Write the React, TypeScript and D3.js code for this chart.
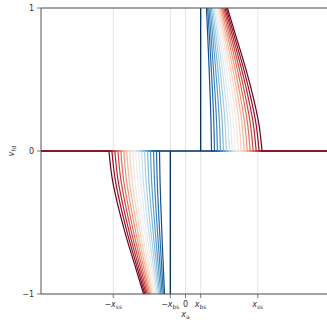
import React from 'react';
import * as d3 from 'd3';

const vLevels = [0, 0.2, 0.4, 0.6, 0.8, 1];

// |x_a| offsets (units of x_ss) per curve, innermost (blue) to outermost (red)
const curveOffsets = [
  [0.36, 0.353, 0.34, 0.325, 0.308, 0.29],
  [0.401, 0.392, 0.375, 0.354, 0.331, 0.307],
  [0.442, 0.43, 0.409, 0.383, 0.354, 0.324],
  [0.484, 0.47, 0.444, 0.413, 0.377, 0.341],
  [0.525, 0.508, 0.478, 0.442, 0.4, 0.358],
  [0.566, 0.547, 0.513, 0.471, 0.423, 0.375],
  [0.607, 0.586, 0.547, 0.5, 0.446, 0.392],
  [0.648, 0.624, 0.581, 0.529, 0.469, 0.409],
  [0.689, 0.663, 0.615, 0.558, 0.492, 0.426],
  [0.731, 0.702, 0.651, 0.587, 0.516, 0.444],
  [0.772, 0.741, 0.685, 0.617, 0.539, 0.461],
  [0.813, 0.78, 0.719, 0.646, 0.562, 0.478],
  [0.854, 0.818, 0.753, 0.675, 0.585, 0.495],
  [0.895, 0.857, 0.788, 0.704, 0.608, 0.512],
  [0.936, 0.895, 0.822, 0.733, 0.631, 0.529],
  [0.978, 0.935, 0.857, 0.762, 0.654, 0.546],
  [1.019, 0.973, 0.891, 0.791, 0.677, 0.563],
  [1.06, 1.012, 0.926, 0.82, 0.7, 0.58],
];

const xBs = 0.21;
const xSs = 1;
const xTicks = [-xSs, -xBs, 0, xBs, xSs];
const xTickLabels = [
  { sign: '−', sub: 'ss' },
  { sign: '−', sub: 'bs' },
  { sign: '', sub: '' },
  { sign: '', sub: 'bs' },
  { sign: '', sub: 'ss' },
];
const yTicks = [-1, 0, 1];

const W = 327;
const H = 320;
const margin = { left: 41, top: 8, bottom: 26 };

const App = () => {
  const x = d3.scaleLinear().domain([-2, 2]).range([margin.left, 330]);
  const y = d3.scaleLinear().domain([-1, 1]).range([H - margin.bottom, margin.top]);

  const n = curveOffsets.length;
  const color = (i: number) => d3.interpolateRdBu(1 - (i + 1) / n);

  const line = d3
    .line<[number, number]>()
    .x(d => x(d[0]))
    .y(d => y(d[1]))
    .curve(d3.curveMonotoneY);

  const font = 'DejaVu Sans';
  const axisColor = '#555';
  const gridColor = '#ddd';

  // navy step function
  const stepPath = `M${x(-2)},${y(0)}L${x(xBs)},${y(0)}L${x(xBs)},${y(1)}M${x(-xBs)},${y(-1)}L${x(-xBs)},${y(0)}L${x(2)},${y(0)}`;

  return (
    <svg width={W} height={H} style={{ position: 'absolute', left: 0, top: 0, background: '#fff' }}>
      <rect width={W} height={H} fill="#fff" />
      {/* grid */}
      {xTicks.map((t, i) => (
        <line key={'gx' + i} x1={x(t)} x2={x(t)} y1={y(-1)} y2={y(1)} stroke={gridColor} strokeWidth={0.8} />
      ))}
      {yTicks.map((t, i) => (
        <line key={'gy' + i} x1={x(-2)} x2={x(2)} y1={y(t)} y2={y(t)} stroke={gridColor} strokeWidth={0.8} />
      ))}

      {/* curves */}
      <path d={stepPath} fill="none" stroke={d3.interpolateRdBu(1)} strokeWidth={1.3} />
      {curveOffsets.map((offs, i) => {
        const right: [number, number][] = vLevels.map((v, k) => [offs[k], v]);
        const left: [number, number][] = vLevels.map((v, k) => [-offs[k], -v] as [number, number]).reverse();
        const dr = `M${x(2)},${y(0)}L` + (line(right) as string).slice(1);
        const dl = `M${x(-2)},${y(0)}L` + (line(left.slice().reverse()) as string).slice(1);
        return (
          <g key={'c' + i} fill="none" stroke={color(i)} strokeWidth={1.2}>
            <path d={dr} />
            <path d={dl} />
          </g>
        );
      })}

      {/* spines */}
      <g stroke={axisColor} strokeWidth={1} fill="none">
        <line x1={x(-2)} x2={x(-2)} y1={y(-1)} y2={y(1)} />
        <line x1={x(-2)} x2={x(2)} y1={y(1)} y2={y(1)} />
        <line x1={x(-2)} x2={x(2)} y1={y(-1)} y2={y(-1)} />
      </g>

      {/* y ticks */}
      {yTicks.map((t, i) => (
        <g key={'yt' + i}>
          <line x1={x(-2) - 4} x2={x(-2)} y1={y(t)} y2={y(t)} stroke={axisColor} strokeWidth={0.8} />
          <text x={x(-2) - 7} y={y(t)} dy="0.35em" textAnchor="end" fontFamily={font} fontSize={8} fill="#333">
            {t < 0 ? '−' + Math.abs(t) : t}
          </text>
        </g>
      ))}

      {/* x ticks */}
      {xTicks.map((t, i) => {
        const lab = xTickLabels[i];
        return (
          <g key={'xt' + i}>
            <line x1={x(t)} x2={x(t)} y1={y(-1)} y2={y(-1) + 4} stroke={axisColor} strokeWidth={0.8} />
            <text x={x(t)} y={y(-1) + 13} textAnchor="middle" fontFamily={font} fontSize={8} fill="#333">
              {lab.sub === '' ? (
                '0'
              ) : (
                <>
                  {lab.sign}
                  <tspan fontStyle="italic">x</tspan>
                  <tspan fontSize={6} dy={2}>{lab.sub}</tspan>
                </>
              )}
            </text>
          </g>
        );
      })}

      {/* axis labels */}
      <text x={x(0)} y={H - 3} textAnchor="middle" fontFamily={font} fontSize={8} fill="#333">
        <tspan fontStyle="italic">x</tspan>
        <tspan fontSize={6} dy={2}>a</tspan>
      </text>
      <text
        transform={`translate(14,${y(0)}) rotate(-90)`}
        textAnchor="middle"
        fontFamily={font}
        fontSize={8}
        fill="#333"
      >
        <tspan fontStyle="italic">v</tspan>
        <tspan fontSize={6} dy={2}>fd</tspan>
      </text>
    </svg>
  );
};

export default App;
